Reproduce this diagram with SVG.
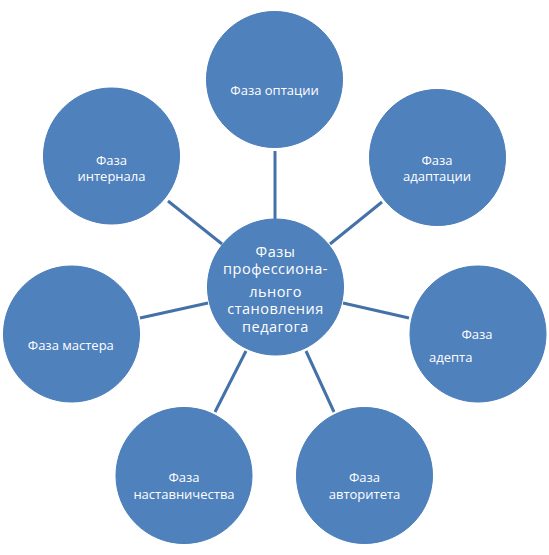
<svg xmlns="http://www.w3.org/2000/svg" width="549" height="555" viewBox="0 0 549 555">
<style>
.n{fill:#4F81BD;stroke:#4A7DBA;stroke-width:1}
.t{fill:#FFFFFF;font-family:"Open Sans","Noto Sans","DejaVu Sans",sans-serif;font-size:13px;text-anchor:middle}
.c{font-size:14.5px;letter-spacing:0.5px}
.e{stroke:#4472A8;stroke-width:3;fill:none}
</style>
<rect width="549" height="555" fill="#FFFFFF"/>
<g id="connectors">
<line class="e" x1="275" y1="151" x2="275" y2="219"/>
<line class="e" x1="168" y1="201" x2="222" y2="244"/>
<line class="e" x1="382" y1="202" x2="330" y2="244"/>
<line class="e" x1="140" y1="318" x2="208" y2="303"/>
<line class="e" x1="409" y1="318" x2="343" y2="303"/>
<line class="e" x1="215" y1="412" x2="246" y2="351"/>
<line class="e" x1="334" y1="412" x2="306" y2="351"/>
</g>
<g id="center">
<circle class="n" cx="275.5" cy="287" r="68"/>
<text class="t c" x="275.5" y="256.5">Фазы</text>
<text class="t c" x="275.5" y="274">профессиона-</text>
<text class="t c" x="275.5" y="296.5">льного</text>
<text class="t c" x="275.5" y="314">становления</text>
<text class="t c" x="275.5" y="331.5">педагога</text>
</g>
<g id="optation">
<circle class="n" cx="274.5" cy="79.5" r="68"/>
<text class="t" x="274.5" y="94.5">Фаза оптации</text>
</g>
<g id="internal">
<circle class="n" cx="111.5" cy="156" r="68"/>
<text class="t" x="111.5" y="164.5">Фаза</text>
<text class="t" x="111.5" y="181">интернала</text>
</g>
<g id="adaptation">
<circle class="n" cx="437.5" cy="157.5" r="68"/>
<text class="t" x="437" y="164.5">Фаза</text>
<text class="t" x="437" y="181">адаптации</text>
</g>
<g id="master">
<circle class="n" cx="71.5" cy="334" r="68"/>
<text class="t" x="70.8" y="349.5">Фаза мастера</text>
</g>
<g id="adept">
<circle class="n" cx="478" cy="334" r="68"/>
<text class="t" x="477" y="338.5">Фаза</text>
<text class="t" x="429" y="362" style="text-anchor:start">адепта</text>
</g>
<g id="mentor">
<circle class="n" cx="184" cy="475.5" r="68"/>
<text class="t" x="184" y="482">Фаза</text>
<text class="t" x="184" y="498.5">наставничества</text>
</g>
<g id="authority">
<circle class="n" cx="364.5" cy="475.5" r="68"/>
<text class="t" x="364.5" y="482">Фаза</text>
<text class="t" x="364.5" y="498.5">авторитета</text>
</g>
</svg>
